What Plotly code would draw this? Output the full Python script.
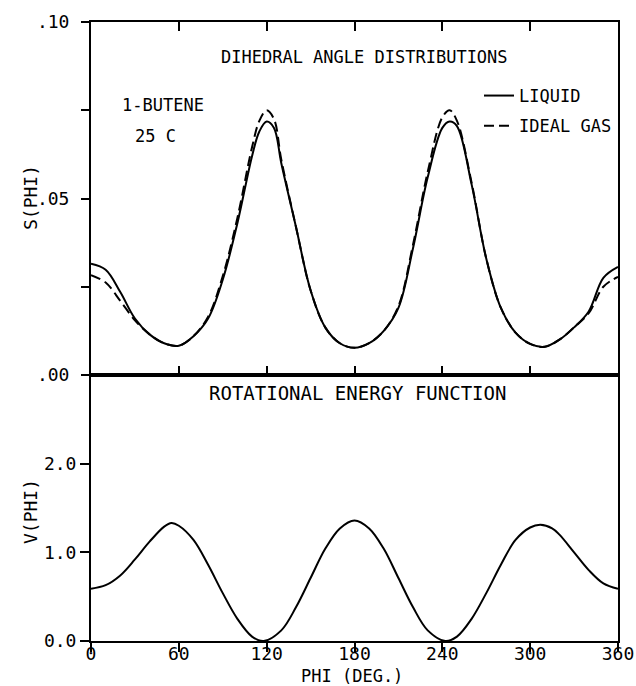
import plotly.graph_objects as go

# ---- data ----
phi_s = [0, 10, 20, 30, 40, 50, 60, 70, 80, 90, 100, 110, 115, 120, 125, 130, 140, 150, 160, 170,
         180, 190, 200, 210, 220, 230, 240, 245, 250, 260, 270, 280, 290, 300, 310, 320, 330, 340, 350, 360]
s_liquid = [0.0315, 0.0298, 0.0235, 0.0160, 0.0115, 0.0090, 0.0083, 0.0110, 0.0160, 0.0270,
            0.0430, 0.0620, 0.0690, 0.0718, 0.0700, 0.0600, 0.0420, 0.0240, 0.0135, 0.0090,
            0.0077, 0.0090, 0.0125, 0.0190, 0.0360, 0.0560, 0.0700, 0.0718, 0.0705, 0.0540,
            0.0330, 0.0190, 0.0120, 0.0088, 0.0080, 0.0100, 0.0135, 0.0180, 0.0275, 0.0306]
s_ideal = [0.0283, 0.0262, 0.0210, 0.0155, 0.0115, 0.0090, 0.0083, 0.0110, 0.0165, 0.0280,
           0.0445, 0.0645, 0.0720, 0.0750, 0.0725, 0.0610, 0.0420, 0.0240, 0.0135, 0.0090,
           0.0077, 0.0090, 0.0125, 0.0195, 0.0370, 0.0575, 0.0730, 0.0750, 0.0720, 0.0545,
           0.0330, 0.0190, 0.0120, 0.0088, 0.0080, 0.0100, 0.0135, 0.0175, 0.0250, 0.0278]

phi_v = [0, 10, 20, 30, 40, 50, 55, 60, 70, 80, 90, 100, 110, 118, 130, 140, 150, 160, 170, 180,
         190, 200, 210, 220, 230, 242, 250, 260, 270, 280, 290, 300, 307, 315, 320, 330, 340, 350, 360]
v_phi = [0.59, 0.63, 0.74, 0.92, 1.12, 1.29, 1.33, 1.30, 1.14, 0.86, 0.54, 0.25, 0.05, 0.00,
         0.12, 0.38, 0.71, 1.04, 1.27, 1.36, 1.27, 1.04, 0.71, 0.38, 0.12, 0.00, 0.05, 0.25,
         0.54, 0.86, 1.14, 1.28, 1.31, 1.27, 1.20, 1.00, 0.80, 0.65, 0.59]

x_ticks = [0, 60, 120, 180, 240, 300, 360]
s_ticks = [0, 0.025, 0.05, 0.075, 0.10]
s_ticktext = [".00", "", ".05", "", ".10"]
v_ticks = [0, 1, 2]
v_ticktext = ["0.0", "1.0", "2.0"]

FONT = "DejaVu Sans Mono"
BLACK = "#000000"

fig = go.Figure()
fig.add_trace(go.Scatter(x=phi_s, y=s_liquid, mode="lines", name="LIQUID",
                         line=dict(color=BLACK, width=2, shape="spline"),
                         xaxis="x", yaxis="y", legendgroup="a"))
fig.add_trace(go.Scatter(x=phi_s, y=s_ideal, mode="lines", name="IDEAL GAS",
                         line=dict(color=BLACK, width=2, shape="spline", dash="10px,5px"),
                         xaxis="x", yaxis="y", legendgroup="b"))
fig.add_trace(go.Scatter(x=phi_v, y=v_phi, mode="lines", showlegend=False,
                         line=dict(color=BLACK, width=2, shape="spline"),
                         xaxis="x2", yaxis="y2"))

split = 266 / 619

fig.update_layout(
    width=636, height=686,
    margin=dict(l=91, r=18, t=22, b=45, autoexpand=False),
    paper_bgcolor="white", plot_bgcolor="white",
    font=dict(family=FONT, size=17, color=BLACK),
    xaxis=dict(domain=[0, 1], range=[0, 360], anchor="y", tickvals=x_ticks,
               showticklabels=False, ticks="inside", ticklen=9, tickwidth=1.5,
               tickcolor=BLACK, showline=True, linecolor=BLACK, linewidth=2,
               mirror="ticks", showgrid=False, zeroline=False, automargin=False),
    yaxis=dict(domain=[split, 1], range=[0, 0.10], anchor="x", tickvals=s_ticks,
               ticktext=s_ticktext, ticks="outside", ticklen=8, tickwidth=1.5,
               tickcolor=BLACK, showline=True, linecolor=BLACK, linewidth=2,
               mirror=True, showgrid=False, zeroline=False, automargin=False,
               tickfont=dict(size=18), ticklabelstandoff=8),
    xaxis2=dict(domain=[0, 1], range=[0, 360], anchor="y2", tickvals=x_ticks,
                ticks="outside", ticklen=9, tickwidth=1.5, tickcolor=BLACK,
                showline=True, linecolor=BLACK, linewidth=2, mirror=True,
                showgrid=False, zeroline=False, tickfont=dict(size=18),
                automargin=False, ticklabelstandoff=-14),
    yaxis2=dict(domain=[0, split], range=[0, 3.0], anchor="x2", tickvals=v_ticks,
                ticktext=v_ticktext, ticks="outside", ticklen=9, tickwidth=1.5,
                tickcolor=BLACK, showline=True, linecolor=BLACK, linewidth=2,
                mirror=True, showgrid=False, zeroline=False, automargin=False,
                tickfont=dict(size=18), ticklabelstandoff=0),
    showlegend=True,
    legend=dict(x=(479 - 91) / 527, y=(641 - 78) / 619, xanchor="left", yanchor="top",
                bgcolor="rgba(0,0,0,0)", borderwidth=0, font=dict(size=17),
                traceorder="grouped", tracegroupgap=5, itemwidth=30),
)

ann = [
    dict(text="DIHEDRAL ANGLE DISTRIBUTIONS", x=187, y=0.0901, xref="x", yref="y",
         xanchor="center", yanchor="middle", font=dict(size=17)),
    dict(text="1-BUTENE", x=19.8, y=0.0765, xref="x", yref="y",
         xanchor="left", yanchor="middle", font=dict(size=17)),
    dict(text="25 C", x=28.7, y=0.0677, xref="x", yref="y",
         xanchor="left", yanchor="middle", font=dict(size=17)),
    dict(text="ROTATIONAL ENERGY FUNCTION", x=182, y=2.80, xref="x2", yref="y2",
         xanchor="center", yanchor="middle", font=dict(size=19)),
    dict(text="PHI (DEG.)", x=(352 - 91) / 527, y=(641 - 676) / 619, xref="paper", yref="paper",
         xanchor="center", yanchor="middle", font=dict(size=17)),
    dict(text="S(PHI)", x=(30 - 91) / 527, y=(641 - 198) / 619, xref="paper", yref="paper",
         xanchor="center", yanchor="middle", textangle=-90, font=dict(size=18)),
    dict(text="V(PHI)", x=(30 - 91) / 527, y=(641 - 512) / 619, xref="paper", yref="paper",
         xanchor="center", yanchor="middle", textangle=-90, font=dict(size=18)),
]
for a in ann:
    a["showarrow"] = False
fig.update_layout(annotations=ann)

# remove the default 8px page margin so the figure fills the 636x686 window exactly
fig.write_html("out.html",
               config={"displayModeBar": False},
               post_script="document.body.style.margin='0';document.body.style.overflow='hidden';")
